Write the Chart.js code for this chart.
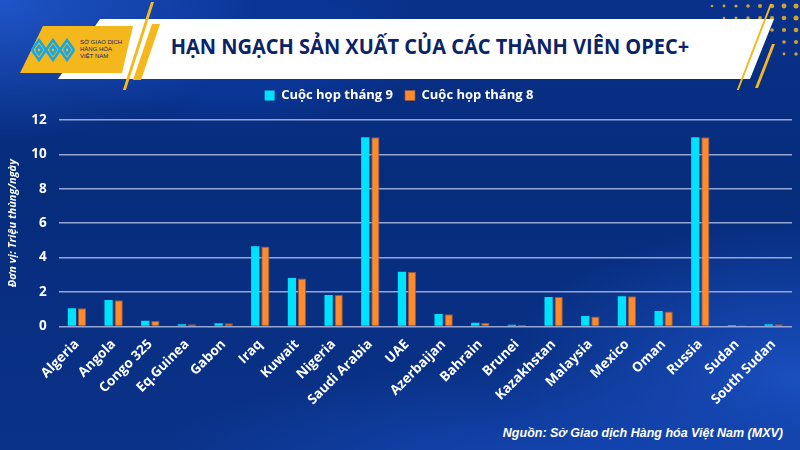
<!DOCTYPE html>
<html>
<head>
<meta charset="utf-8">
<script src="https://cdn.jsdelivr.net/npm/chart.js@4.4.1/dist/chart.umd.min.js"></script>
<style>
  html, body { margin: 0; padding: 0; }
  body {
    width: 800px; height: 450px; overflow: hidden; position: relative;
    background:
      radial-gradient(ellipse 260px 140px at 0px 0px, #1f55c8 0%, rgba(31,85,200,0) 100%),
      radial-gradient(ellipse 200px 90px at 230px 40px, #0a3596 60%, rgba(10,53,150,0) 100%),
      radial-gradient(ellipse 420px 110px at 560px 470px, #1446b3 0%, rgba(20,70,179,0) 100%),
      radial-gradient(ellipse 300px 160px at 800px 380px, #1a4fc0 0%, rgba(26,79,192,0) 100%),
      linear-gradient(180deg, #0a318a 0%, #062c7c 40%, #0a3288 100%);
    font-family: "Open Sans", sans-serif;
  }
  #banner {
    position: absolute; left: 0; top: 0; width: 800px; height: 90px;
  }
  #title {
    position: absolute; left: 130px; top: 31px; width: 600px; text-align: center;
    font-family: "Open Sans", sans-serif; font-weight: 700; font-size: 21.5px;
    color: #0b2466; transform: scaleX(0.93); transform-origin: center;
  }
  #source {
    position: absolute; right: 17px; top: 426px;
    font-family: "Liberation Sans", Arial, sans-serif; font-style: italic; font-weight: 700;
    font-size: 12.5px; color: #ffffff;
  }
  #wrap { position: absolute; left: 0; top: 77px; width: 800px; height: 333px; }
</style>
</head>
<body>
<svg id="banner" width="800" height="90" viewBox="0 0 800 90">
  <!-- dots top right -->
  <g fill="#f5b81c" opacity="0.85">
    <circle cx="712" cy="6" r="1.3"/><circle cx="724" cy="6" r="1.4"/><circle cx="736" cy="6" r="1.6"/><circle cx="748" cy="6" r="1.8"/><circle cx="760" cy="6" r="2"/><circle cx="772" cy="6" r="2.2"/><circle cx="784" cy="6" r="2.4"/><circle cx="796" cy="6" r="2.5"/>
    <circle cx="724" cy="18" r="1.3"/><circle cx="736" cy="18" r="1.5"/><circle cx="748" cy="18" r="1.7"/><circle cx="760" cy="18" r="1.9"/><circle cx="772" cy="18" r="2.1"/><circle cx="784" cy="18" r="2.3"/><circle cx="796" cy="18" r="2.5"/>
    <circle cx="772" cy="30" r="1.8"/><circle cx="784" cy="30" r="2.1"/><circle cx="796" cy="30" r="2.3"/>
    <circle cx="784" cy="42" r="1.8"/><circle cx="796" cy="42" r="2"/>
    <circle cx="784" cy="54" r="1.4"/><circle cx="796" cy="54" r="1.7"/>
  </g>
  <!-- white banner -->
  <polygon points="100,19 774,19 750,79 58,79" fill="#ffffff"/>
  <!-- yellow decorative lines -->
  <polygon points="151,2 154,2 124,96 121,96" fill="#f5b81c"/>
  <polygon points="152,24 160,24 141,80 133,80" fill="#f5b81c"/>
  <polygon points="770,4 772,4 738,92 736,92" fill="#f5b81c"/>
  <polygon points="772,44 775,44 758,88 755,88" fill="#f5b81c"/>
  <!-- logo box -->
  <polygon points="43,26 133,26 122,73 20,73" fill="#f5b81c"/>
  <g fill="none" stroke="#1aa6e0" stroke-width="2.6">
    <polyline points="32,50 39,40 46,50 53,40 60,50 67,40 74,50"/>
    <polyline points="32,50 39,60 46,50 53,60 60,50 67,60 74,50"/>
    <polyline points="36,50 39,46 42,50 39,54 36,50"/>
    <polyline points="50,50 53,46 56,50 53,54 50,50"/>
    <polyline points="64,50 67,46 70,50 67,54 64,50"/>
  </g>
  <g fill="#0b2466" font-family="Liberation Sans, Arial, sans-serif" font-size="6">
    <text x="80" y="44">SỞ GIAO DỊCH</text>
    <text x="80" y="51">HÀNG HÓA</text>
    <text x="80" y="58">VIỆT NAM</text>
  </g>
</svg>
<div id="title">HẠN NGẠCH SẢN XUẤT CỦA CÁC THÀNH VIÊN OPEC+</div>
<div id="wrap"><canvas id="chart"></canvas></div>
<div id="source">Nguồn: Sở Giao dịch Hàng hóa Việt Nam (MXV)</div>

<script>
const categories = ["Algeria", "Angola", "Congo 325", "Eq.Guinea", "Gabon", "Iraq", "Kuwait", "Nigeria",
  "Saudi Arabia", "UAE", "Azerbaijan", "Bahrain", "Brunei", "Kazakhstan", "Malaysia", "Mexico",
  "Oman", "Russia", "Sudan", "South Sudan"];
const meetingSep = [1.06, 1.53, 0.33, 0.13, 0.18, 4.66, 2.81, 1.83, 11.0, 3.18, 0.72, 0.21, 0.10, 1.71, 0.60, 1.75, 0.89, 11.0, 0.08, 0.13];
const meetingAug = [1.06, 1.52, 0.32, 0.12, 0.18, 4.64, 2.79, 1.82, 11.0, 3.17, 0.71, 0.20, 0.10, 1.71, 0.58, 1.75, 0.86, 11.0, 0.07, 0.12];
const yTicks = [0, 2, 4, 6, 8, 10, 12];

// thêm khoảng trống dưới legend
const legendGap = {
  id: "legendGap",
  beforeInit(chart) {
    const fit = chart.legend.fit;
    chart.legend.fit = function () {
      fit.bind(chart.legend)();
      this.height += 8;
    };
  }
};

new Chart(document.getElementById("chart"), {
  type: "bar",
  data: {
    labels: categories,
    datasets: [
      { label: "Cuộc họp tháng 9", data: meetingSep, backgroundColor: "#00e1fb", borderWidth: 0 },
      { label: "Cuộc họp tháng 8", data: meetingAug, backgroundColor: "#ff8a2c", borderColor: "#9a5a3a", borderWidth: { left: 1, right: 1, top: 1, bottom: 0 } }
    ]
  },
  options: {
    responsive: true,
    maintainAspectRatio: false,
    animation: false,
    datasets: { bar: { categoryPercentage: 0.55, barPercentage: 0.82 } },
    layout: { padding: { left: 6, right: 8, top: 0, bottom: 0 } },
    plugins: {
      legend: {
        position: "top",
        labels: {
          color: "#ffffff",
          boxWidth: 10, boxHeight: 10,
          padding: 12,
          font: { family: "Open Sans", weight: "bold", size: 13 }
        }
      },
      tooltip: { enabled: false }
    },
    scales: {
      x: {
        grid: { display: false },
        border: { display: false },
        ticks: {
          color: "#ffffff", minRotation: 45, maxRotation: 45, autoSkip: false, padding: 2,
          font: { family: "Open Sans", weight: "bold", size: 13.5 }
        }
      },
      y: {
        min: 0, max: 12,
        afterBuildTicks: axis => { axis.ticks = yTicks.map(v => ({ value: v })); },
        grid: { color: "#98a6d6", lineWidth: 1.5, drawTicks: false },
        border: { display: false },
        ticks: {
          color: "#ffffff", padding: 12,
          font: { family: "Open Sans", weight: "bold", size: 13.5 }
        },
        title: {
          display: true, text: "Đơn vị: Triệu thùng/ngày", color: "#ffffff", padding: 0,
          font: { family: "Open Sans", weight: "bold", style: "italic", size: 11 }
        }
      }
    }
  },
  plugins: [legendGap]
});
</script>
</body>
</html>
